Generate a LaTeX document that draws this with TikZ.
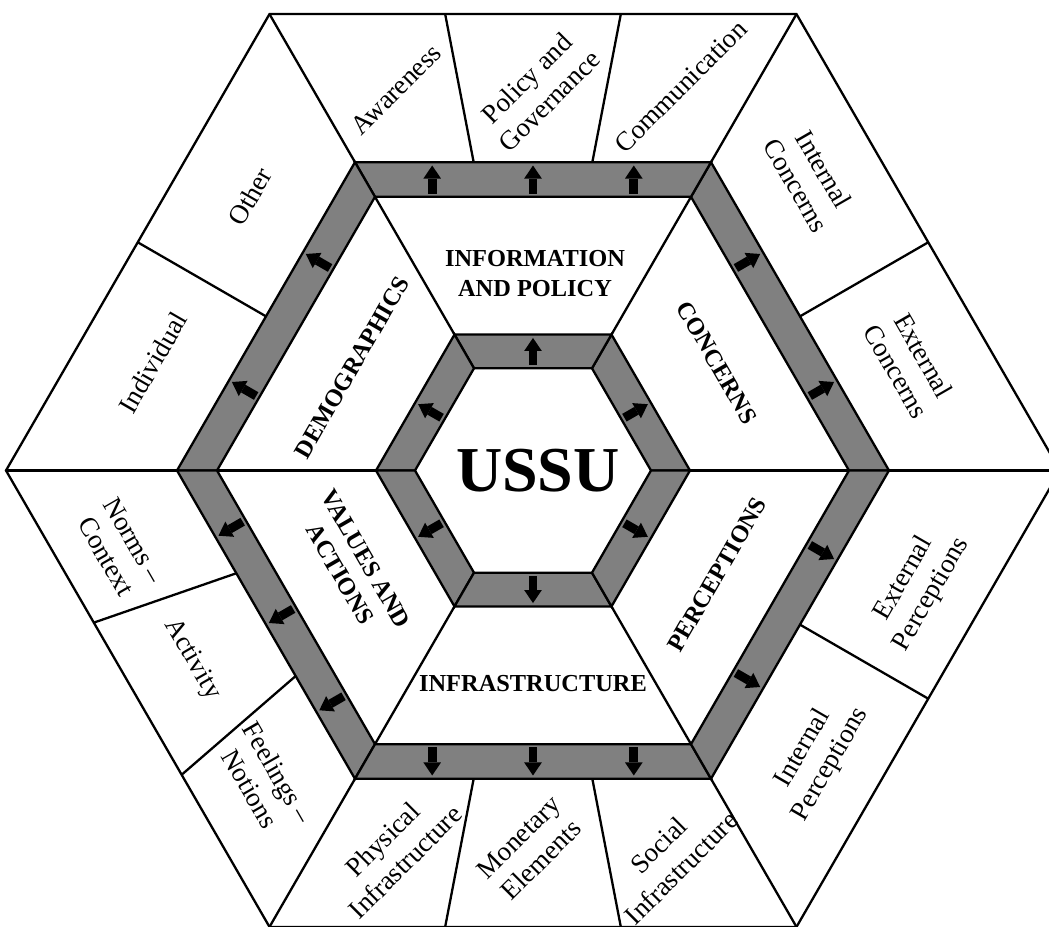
\documentclass[tikz,border=0pt]{standalone}
\usepackage{fontspec}
\setmainfont{Liberation Serif}
\usetikzlibrary{calc,arrows.meta}

\tikzset{
  wall/.style={line width=1.15pt, line join=miter},
  band/.style={wall, fill=black!50},
  leaf/.style={font=\fontsize{13.5}{16}\selectfont, align=center, inner sep=0pt},
  area/.style={font=\fontsize{12.2}{15}\selectfont\bfseries, align=center, inner sep=0pt},
  blockarrow/.style={line width=4.4pt, -{Triangle[length=6.5pt,width=8.8pt,line width=0pt]}},
}

\begin{document}
\begin{tikzpicture}[x=0.5pt,y=0.5pt]
    %%%%% START %%%%%
    \useasboundingbox (-533,470.5) rectangle (516,-455.5);

    % outer hexagon and its corner lines
    \draw[wall] (0:527) -- (60:527) -- (120:527) -- (180:527) -- (240:527) -- (300:527) -- cycle;
    \foreach \a in {0,60,...,300}
        \draw[wall] (\a:356) -- (\a:527);

    % split the outer ring in thirds and halves
    \foreach \a in {60,180,240}
        \foreach \t in {1/3,2/3}
            \draw[wall] ($(\a:356)!\t!(\a+60:356)$) -- ($(\a:527)!\t!(\a+60:527)$);
    \foreach \a in {0,120,300}
        \draw[wall] ($(\a:356)!0.5!(\a+60:356)$) -- ($(\a:527)!0.5!(\a+60:527)$);

    % middle ring
    \foreach \a in {0,60,...,300}
        \draw[wall] (\a:157) -- (\a:316);

    % the two grey bands
    \foreach \a in {0,60,...,300}
        \draw[band] (\a:316) -- (\a:356) -- (\a+60:356) -- (\a+60:316) -- cycle;
    \foreach \a in {0,60,...,300}
        \draw[band] (\a:118) -- (\a:157) -- (\a+60:157) -- (\a+60:118) -- cycle;

    % arrows in the bands
    \foreach \a/\t in {90/0.2,90/0.5,90/0.8,270/0.2,270/0.5,270/0.8,210/0.2,210/0.5,210/0.8,
                       30/0.28,30/0.72,150/0.28,150/0.72,330/0.28,330/0.72}
        \draw[blockarrow] ($(\a-30:336)!\t!(\a+30:336)$) ++(\a+180:14) -- ++(\a:28);
    \foreach \a in {30,90,...,330}
        \draw[blockarrow] ($(\a-30:137.5)!0.5!(\a+30:137.5)$) ++(\a+180:13.5) -- ++(\a:27);

    % outer labels
    \node[leaf, rotate=45] (awareness) at (-137,381) {Awareness};
    \node[leaf, rotate=45] (policy) at (5,381) {Policy and\\Governance};
    \node[leaf, rotate=45] (communication) at (148,384) {Communication};
    \node[leaf, rotate=60] (other) at (-283,274) {Other};
    \node[leaf, rotate=60] (individual) at (-380,108) {Individual};
    \node[leaf, rotate=-60] (intconcerns) at (277,293) {Internal\\Concerns};
    \node[leaf, rotate=-60] (extconcerns) at (377,107) {External\\Concerns};
    \node[leaf, rotate=60] (extperceptions) at (385,-116) {External\\Perceptions};
    \node[leaf, rotate=60] (intperceptions) at (284,-286) {Internal\\Perceptions};
    \node[leaf, rotate=45] (physical) at (-139,-380) {Physical\\Infrastructure};
    \node[leaf, rotate=45] (monetary) at (-3,-378) {Monetary\\Elements};
    \node[leaf, rotate=45] (social) at (137,-386) {Social\\Infrastructure};
    \node[leaf, rotate=-60] (norms) at (-413,-78) {Norms --\\Context};
    \node[leaf, rotate=-60] (activity) at (-341,-189) {Activity};
    \node[leaf, rotate=-60] (feelings) at (-269,-310) {Feelings --\\Notions};

    % middle labels
    \node[area] (information) at (2,197) {INFORMATION\\AND POLICY};
    \node[area, rotate=-60] (concerns) at (184,108) {CONCERNS};
    \node[area, rotate=60] (perceptions) at (184,-104) {PERCEPTIONS};
    \node[area] (infrastructure) at (0,-213) {INFRASTRUCTURE};
    \node[area, rotate=-60] (values) at (-180,-96) {VALUES AND\\ACTIONS};
    \node[area, rotate=60] (demographics) at (-181,103) {DEMOGRAPHICS};
    \node[font=\fontsize{32}{32}\selectfont\bfseries] (ussu) at (5,0) {USSU};

    %%%%% END %%%%%
\end{tikzpicture}
\end{document}
